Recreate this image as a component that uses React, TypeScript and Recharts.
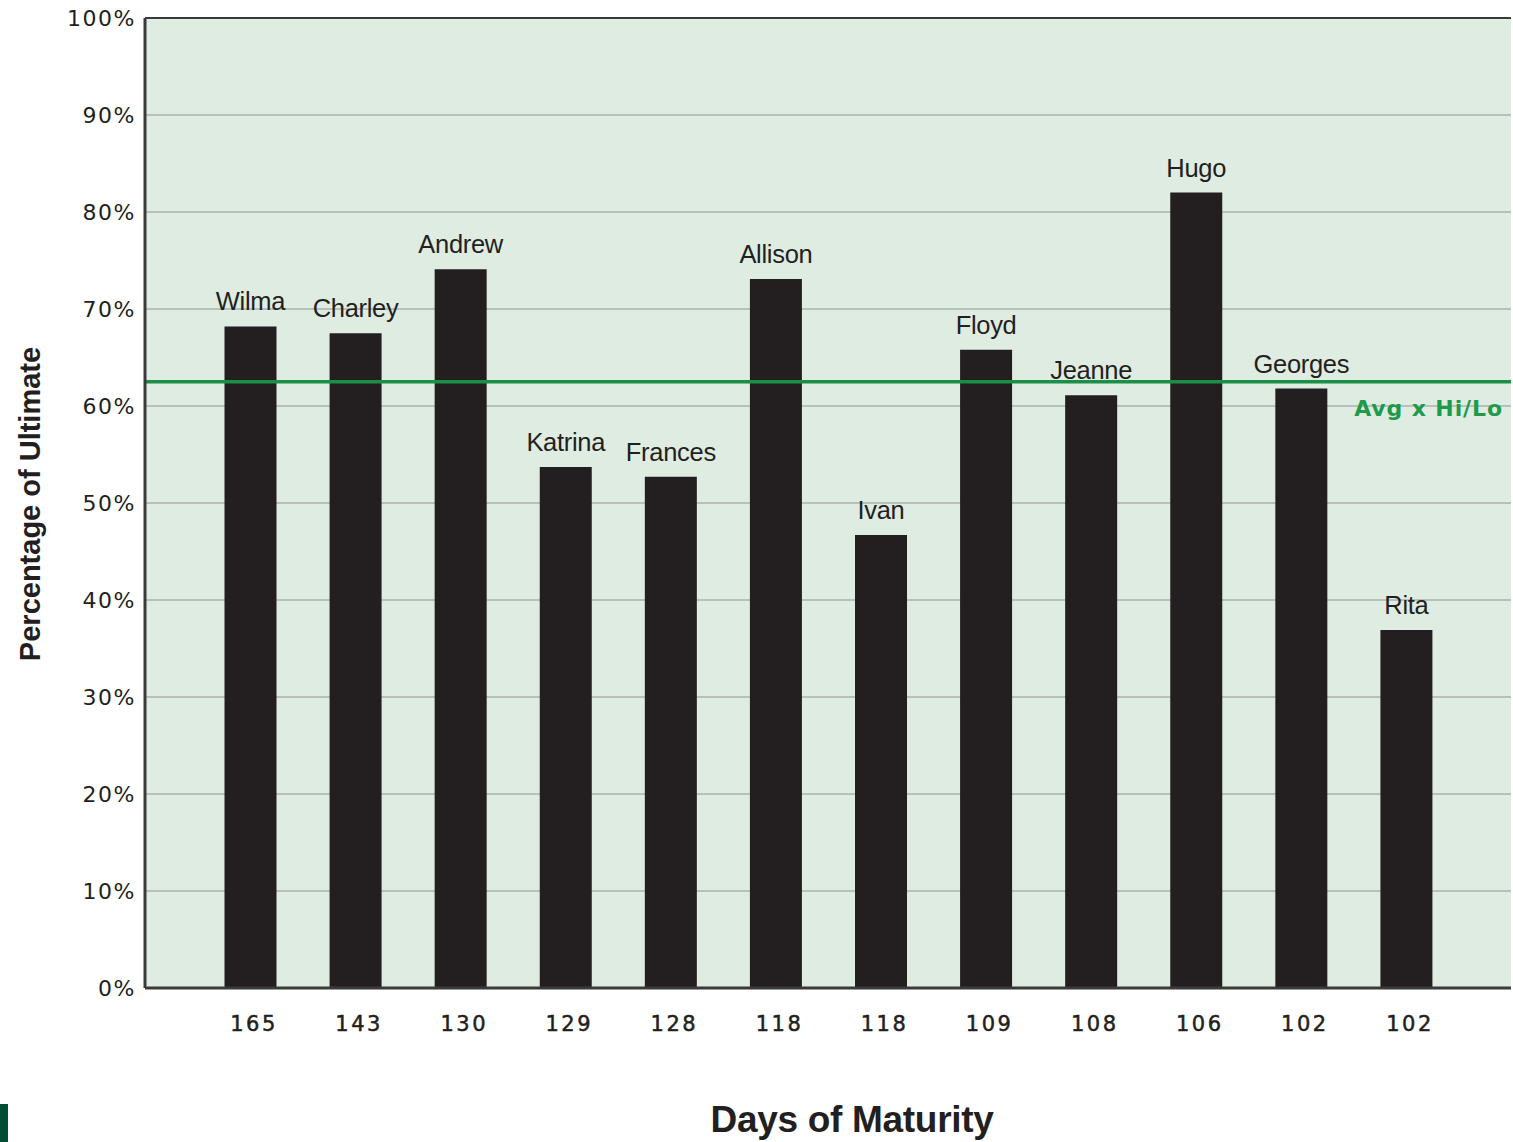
import { BarChart, Bar, XAxis, YAxis, CartesianGrid, ReferenceLine, LabelList } from 'recharts';

const storms = ['Wilma', 'Charley', 'Andrew', 'Katrina', 'Frances', 'Allison', 'Ivan', 'Floyd', 'Jeanne', 'Hugo', 'Georges', 'Rita'];
const daysOfMaturity = ['165', '143', '130', '129', '128', '118', '118', '109', '108', '106', '102', '102'];
const pctOfUltimate = [68.2, 67.5, 74.1, 53.7, 52.7, 73.1, 46.7, 65.8, 61.1, 82.0, 61.8, 36.9];
const avgHiLo = 62.5;
const yTicks = [0, 10, 20, 30, 40, 50, 60, 70, 80, 90, 100];

const chartData = storms.map((name, i) => ({
  key: i,
  name,
  days: daysOfMaturity[i],
  pct: pctOfUltimate[i],
}));

function YTitle({ viewBox }: { viewBox?: { x: number; y: number; width: number; height: number } }) {
  if (!viewBox) return null;
  const cx = 40;
  const cy = viewBox.y + viewBox.height / 2 + 1;
  return (
    <text
      x={cx}
      y={cy}
      transform={`rotate(-90, ${cx}, ${cy})`}
      textAnchor="middle"
      fontFamily="Liberation Sans, Arial, sans-serif"
      fontWeight="bold"
      fontSize={29}
      fill="#231f20"
    >
      Percentage of Ultimate
    </text>
  );
}

export default function App() {
  return (
    <div style={{ position: 'absolute', left: 0, top: 0, width: 1513, height: 1142, background: '#fff', overflow: 'hidden' }}>
      <BarChart
        width={1513}
        height={1142}
        data={chartData}
        margin={{ top: 18, right: 2, left: 0, bottom: 0 }}
        barCategoryGap={0}
      >
        <CartesianGrid vertical={false} fill="#dfece2" stroke="#aab3ac" strokeWidth={1.5} />
        <XAxis
          dataKey="key"
          tickFormatter={(i: number) => daysOfMaturity[i]}
          interval={0}
          height={154}
          padding={{ left: 52.5, right: 52.5 }}
          axisLine={{ stroke: '#3a3a3a', strokeWidth: 3 }}
          tickLine={false}
          tickMargin={22}
          tick={{ fill: '#231f20', stroke: '#231f20', strokeWidth: 0.5, fontSize: 21, fontFamily: 'DejaVu Sans, Verdana, sans-serif', letterSpacing: 2.5, dx: 4 }}
          label={{
            value: 'Days of Maturity',
            position: 'insideBottom',
            offset: 10,
            dx: 24,
            fill: '#231f20',
            fontSize: 37,
            fontWeight: 'bold',
            fontFamily: 'Liberation Sans, Arial, sans-serif',
            letterSpacing: -0.3,
          }}
        />
        <YAxis
          domain={[0, 100]}
          ticks={yTicks}
          interval={0}
          width={145}
          tickFormatter={(v: number) => `${v}%`}
          axisLine={{ stroke: '#3a3a3a', strokeWidth: 3 }}
          tickLine={false}
          tickMargin={3}
          tick={{ fill: '#231f20', fontSize: 22, fontFamily: 'DejaVu Sans, Verdana, sans-serif', letterSpacing: 1.5 }}
          label={{ content: YTitle }}
        />
        <YAxis
          yAxisId="frame"
          orientation="right"
          domain={[0, 100]}
          width={0}
          tick={false}
          tickLine={false}
          axisLine={{ stroke: '#8a8f8b', strokeWidth: 2 }}
        />
        <ReferenceLine y={100} stroke="#3a3a3a" strokeWidth={2} />
        <Bar dataKey="pct" fill="#231f20" barSize={52} isAnimationActive={false}>
          <LabelList
            dataKey="name"
            position="top"
            offset={16}
            fill="#231f20"
            fontSize={25.5}
            fontFamily="Liberation Sans, Arial, sans-serif"
            letterSpacing={-0.3}
          />
        </Bar>
        <ReferenceLine
          y={avgHiLo}
          stroke="#1a8f45"
          strokeWidth={3.5}
          label={{
            value: 'Avg x Hi/Lo',
            position: 'insideTopRight',
            offset: 8,
            dy: 11,
            fill: '#1f9a4c',
            fontSize: 22,
            fontWeight: 'bold',
            fontFamily: 'DejaVu Sans, Verdana, sans-serif',
            letterSpacing: 0.9,
          }}
        />
      </BarChart>
      <div style={{ position: 'absolute', left: 0, top: 1104, width: 8, height: 38, background: '#004d33' }} />
    </div>
  );
}
